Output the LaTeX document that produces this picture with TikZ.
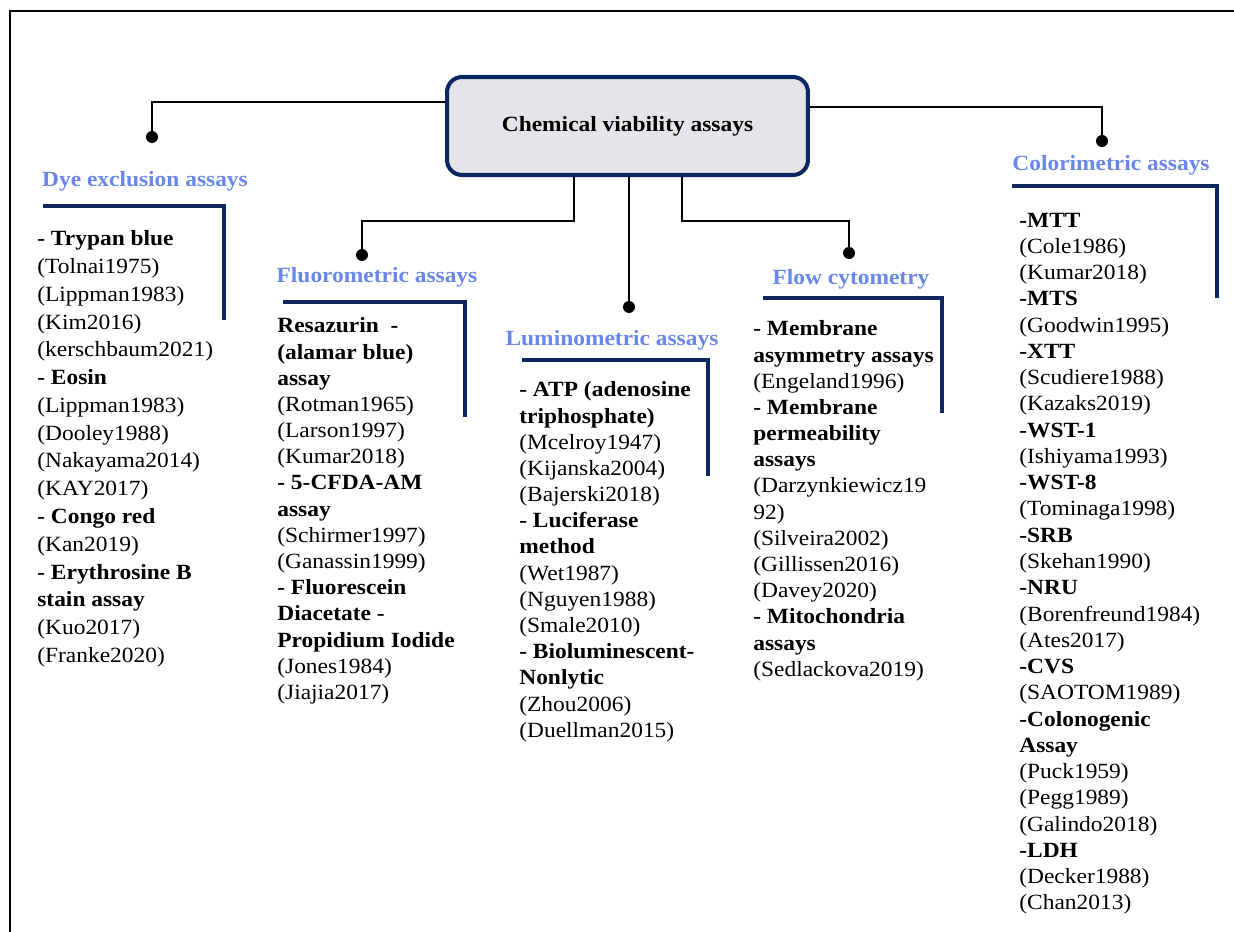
\documentclass[tikz,border=0pt]{standalone}
\usepackage{fontspec}
\setmainfont{Liberation Serif}[FakeStretch=1.08]
\definecolor{headblue}{RGB}{105,135,232}
\definecolor{navy}{RGB}{12,38,96}
\definecolor{boxgray}{RGB}{229,229,233}

\begin{document}
\fontsize{12.35}{14.9}\selectfont
\begin{tikzpicture}[x=0.02cm,y=-0.02cm,
  mainbox/.style={rectangle,rounded corners=3mm,draw=navy,line width=2.3pt,fill=boxgray,minimum width=7.22cm,minimum height=1.96cm,font=\bfseries},
  head/.style={text=headblue,font=\bfseries,inner sep=0pt},
  refs/.style={anchor=north west,inner sep=0pt,align=left},
  dot/.style={circle,fill=black,inner sep=0pt,minimum size=2.4mm},
  conn/.style={line width=1.6pt},
  bar/.style={draw=navy,line width=2.8pt}]

  \useasboundingbox (0,0) rectangle (1234,932) ;
  \draw[line width=1.4pt] (10,932) -- (10,11) -- (1234,11) ;

  \node[mainbox] at (627.5,126) (main) {Chemical viability assays} ;

  \node[dot] at ( 152,137) (dyedot)  {} ;
  \node[dot] at ( 362,255) (fluodot) {} ;
  \node[dot] at ( 629,307) (lumdot)  {} ;
  \node[dot] at ( 849,253) (flowdot) {} ;
  \node[dot] at (1102,141) (coldot)  {} ;

  \coordinate (dyeknee)  at ( 152,102) ;
  \coordinate (fluoknee) at ( 574,221) ;
  \coordinate (flowknee) at ( 682,221) ;
  \coordinate (colknee)  at (1102,107) ;

  \draw[conn] (main.west |- dyeknee)   -- (dyeknee)  -- (dyedot) ;
  \draw[conn] (main.south -| fluoknee) -- (fluoknee) -| (fluodot) ;
  \draw[conn] (main.south -| lumdot)   -- (lumdot) ;
  \draw[conn] (main.south -| flowknee) -- (flowknee) -| (flowdot) ;
  \draw[conn] (main.east |- colknee)   -- (colknee)  -- (coldot) ;

  \node[head] at ( 145,181) (dyehead)  {Dye exclusion assays} ;
  \node[head] at ( 377,277) (fluohead) {Fluorometric assays} ;
  \node[head] at ( 612,340) (lumhead)  {Luminometric assays} ;
  \node[head] at ( 851,279) (flowhead) {Flow cytometry} ;
  \node[head] at (1111,165) (colhead)  {Colorimetric assays} ;

  \draw[bar] (  43,206) -| ( 224,320) ;
  \draw[bar] ( 283,302) -| ( 465,417) ;
  \draw[bar] ( 522,360) -| ( 708,476) ;
  \draw[bar] ( 763,298) -| ( 942,413) ;
  \draw[bar] (1012,186) -| (1217,298) ;

  \node[refs,font=\fontsize{12.35}{15.8}\selectfont] at (37,230.5) (dyetext)
    {\textbf{- Trypan blue}\\(Tolnai1975)\\(Lippman1983)\\(Kim2016)\\(kerschbaum2021)\\
     \textbf{- Eosin}\\(Lippman1983)\\(Dooley1988)\\(Nakayama2014)\\(KAY2017)\\
     \textbf{- Congo red}\\(Kan2019)\\\textbf{- Erythrosine B}\\\textbf{stain assay}\\(Kuo2017)\\(Franke2020)} ;
  \node[refs] at (277,317.5) (fluotext)
    {\textbf{Resazurin~~-}\\\textbf{(alamar blue)}\\\textbf{assay}\\(Rotman1965)\\(Larson1997)\\(Kumar2018)\\
     \textbf{- 5-CFDA-AM}\\\textbf{assay}\\(Schirmer1997)\\(Ganassin1999)\\
     \textbf{- Fluorescein}\\\textbf{Diacetate -}\\\textbf{Propidium Iodide}\\(Jones1984)\\(Jiajia2017)} ;
  \node[refs] at (519,381.5) (lumtext)
    {\textbf{- ATP (adenosine}\\\textbf{triphosphate)}\\(Mcelroy1947)\\(Kijanska2004)\\(Bajerski2018)\\
     \textbf{- Luciferase}\\\textbf{method}\\(Wet1987)\\(Nguyen1988)\\(Smale2010)\\
     \textbf{- Bioluminescent-}\\\textbf{Nonlytic}\\(Zhou2006)\\(Duellman2015)} ;
  \node[refs] at (753,320.5) (flowtext)
    {\textbf{- Membrane}\\\textbf{asymmetry assays}\\(Engeland1996)\\
     \textbf{- Membrane}\\\textbf{permeability}\\\textbf{assays}\\(Darzynkiewicz19\\92)\\(Silveira2002)\\(Gillissen2016)\\(Davey2020)\\
     \textbf{- Mitochondria}\\\textbf{assays}\\(Sedlackova2019)} ;
  \node[refs,font=\fontsize{12.35}{14.95}\selectfont] at (1019,212.5) (coltext)
    {\textbf{-MTT}\\(Cole1986)\\(Kumar2018)\\\textbf{-MTS}\\(Goodwin1995)\\\textbf{-XTT}\\(Scudiere1988)\\(Kazaks2019)\\
     \textbf{-WST-1}\\(Ishiyama1993)\\\textbf{-WST-8}\\(Tominaga1998)\\\textbf{-SRB}\\(Skehan1990)\\
     \textbf{-NRU}\\(Borenfreund1984)\\(Ates2017)\\\textbf{-CVS}\\(SAOTOM1989)\\
     \textbf{-Colonogenic}\\\textbf{Assay}\\(Puck1959)\\(Pegg1989)\\(Galindo2018)\\
     \textbf{-LDH}\\(Decker1988)\\(Chan2013)} ;

\end{tikzpicture}
\end{document}
